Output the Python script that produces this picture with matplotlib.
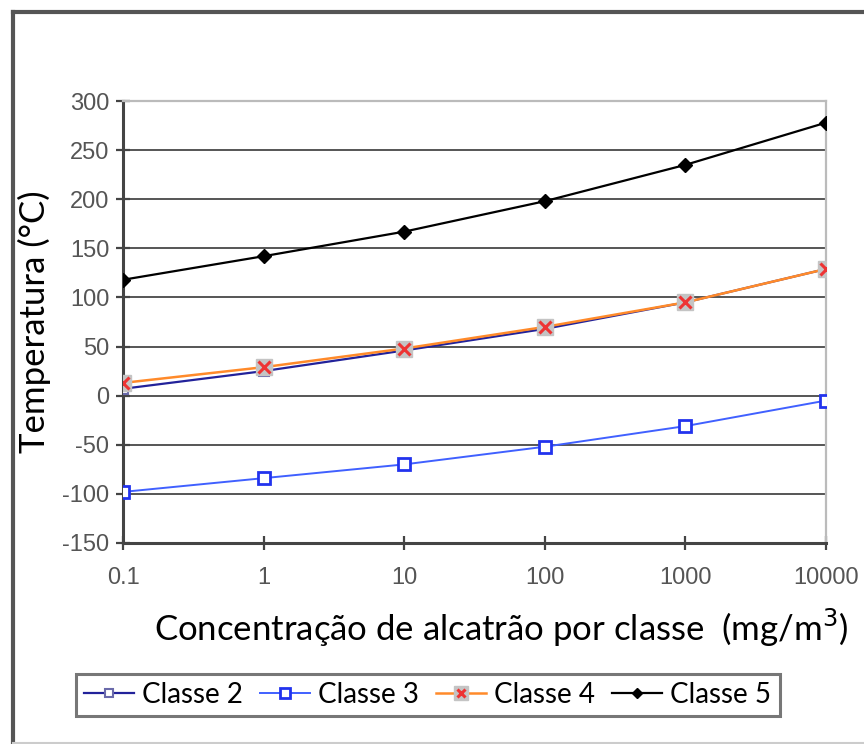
import numpy as np
import matplotlib
matplotlib.use('Agg')
import matplotlib.pyplot as plt
from matplotlib.lines import Line2D
from matplotlib.legend_handler import HandlerTuple

plt.rcParams['axes.unicode_minus'] = False

conc = [0.1, 1, 10, 100, 1000, 10000]
conc_labels = ['0.1', '1', '10', '100', '1000', '10000']

classe2 = [7, 25, 46, 68, 95, 129]
classe3 = [-98, -84, -70, -52, -31, -5]
classe4 = [13, 29, 48, 70, 95, 129]
classe5 = [118, 142, 167, 198, 235, 278]

fig = plt.figure(figsize=(8.64, 7.44), dpi=100)
ax = fig.add_axes([0.1424, 0.2702, 0.956 - 0.1424, 0.8642 - 0.2702])

# outer frame
fig.add_artist(Line2D([0.0145, 0.0145], [0.002, 0.984], transform=fig.transFigure,
                      color='#555555', lw=3))
fig.add_artist(Line2D([0.0145, 1.0], [0.984, 0.984], transform=fig.transFigure,
                      color='#555555', lw=3))
fig.add_artist(Line2D([0.0145, 1.0], [0.002, 0.002], transform=fig.transFigure,
                      color='#cccccc', lw=1.5))

for yv in range(-100, 300, 50):
    ax.axhline(yv, color='#555555', lw=1.4, zorder=1)

l2, = ax.plot(conc, classe2, color='#22229a', lw=1.6, marker='s', ms=7,
              mfc='white', mec='#6a6aaa', mew=1.5, zorder=3)
l3, = ax.plot(conc, classe3, color='#4060ff', lw=1.4, marker='s', ms=9,
              mfc='white', mec='#2233ee', mew=2, zorder=3)
l4, = ax.plot(conc, classe4, color='#ff8a2a', lw=1.8, zorder=4)
sq4, = ax.plot(conc, classe4, ls='none', marker='s', ms=12, mfc='#c4c4c4',
               mec='#c4c4c4', zorder=5)
x4, = ax.plot(conc, classe4, ls='none', marker='x', ms=8, mew=2.2,
              color='#ee3333', zorder=6)
l5, = ax.plot(conc, classe5, color='black', lw=1.6, marker='D', ms=7,
              mfc='black', mec='black', zorder=3)

ax.set_xscale('log')
ax.set_xlim(0.1, 10000)
ax.set_ylim(-150, 300)
ax.set_xticks(conc)
ax.set_xticklabels(conc_labels)
ax.minorticks_off()
ax.set_yticks(np.arange(-150, 301, 50))

for sp in ['left', 'bottom']:
    ax.spines[sp].set_color('#444444')
    ax.spines[sp].set_linewidth(2.2)
for sp in ['top', 'right']:
    ax.spines[sp].set_color('#bbbbbb')
    ax.spines[sp].set_linewidth(1.6)

ax.tick_params(axis='y', direction='inout', length=10, width=1.6, color='#444444',
               labelsize=17, labelcolor='#555555', pad=5)
ax.tick_params(axis='x', direction='inout', length=10, width=1.6, color='#444444',
               labelsize=17, labelcolor='#555555', pad=12)
for lab in ax.get_xticklabels() + ax.get_yticklabels():
    lab.set_family('Liberation Sans')

ax.set_ylabel('Temperatura (°C)', fontsize=25, family='Lato', labelpad=8)
fig.text(0.58, 0.156, 'Concentração de alcatrão por classe  (mg/m$^3$)',
         fontsize=25, family='Lato', ha='center', va='center')

h4 = (Line2D([], [], color='#ff8a2a', lw=1.8), sq4, x4)
leg = fig.legend([l2, l3, h4, l5], ['Classe 2', 'Classe 3', 'Classe 4', 'Classe 5'],
                 loc='center', bbox_to_anchor=(0.495, 0.066), ncol=4,
                 frameon=True, fancybox=False, handlelength=1.8, handletextpad=0.3,
                 columnspacing=0.6, borderpad=0.3, markerscale=0.8,
                 handler_map={tuple: HandlerTuple(ndivide=1)},
                 prop={'family': 'Lato', 'size': 20})
leg.get_frame().set_edgecolor('#555555')
leg.get_frame().set_linewidth(2.2)

plt.savefig('out.png', dpi=100)
